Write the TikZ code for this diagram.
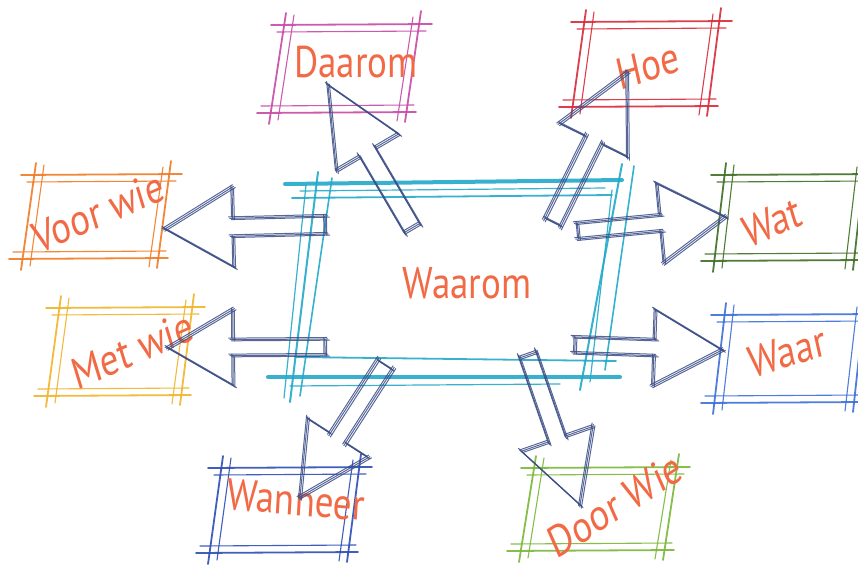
\documentclass[tikz,border=0pt]{standalone}
\usepackage{fontspec}
\setmainfont{PT Sans}
\usetikzlibrary{calc}
\definecolor{txt}{HTML}{F26A45}
\definecolor{pinkb}{HTML}{C84AA5}
\definecolor{redb}{HTML}{D92A3A}
\definecolor{orangeb}{HTML}{F07A22}
\definecolor{yellowb}{HTML}{F0B428}
\definecolor{dgreenb}{HTML}{3F6E22}
\definecolor{blueb}{HTML}{3B6FD8}
\definecolor{dblueb}{HTML}{2C4DB5}
\definecolor{lgreenb}{HTML}{7AB838}
\definecolor{cyanb}{HTML}{22A9C9}
\definecolor{navyb}{HTML}{3A4D86}
\tikzset{
  lbl/.style={text=txt, inner sep=0pt, font=\fontsize{37}{40}\selectfont, yscale=1.2},
  arrowline/.style={draw=navyb, line width=1pt, opacity=.85, line cap=round},
  boxline/.style={line width=1.8pt, opacity=.9, line cap=round},
}
% sketched parallelogram box: #1 colour, #2 left, #3 top, #4 right, #5 bottom, #6 slant
\newcommand{\skbox}[6]{%
  \begin{scope}[draw=#1, boxline]
    \draw (#2-14,#3) -- (#4+10,#3-1);
    \draw[line width=1.1pt] (#2-8,#3+7) -- (#4+4,#3+6);
    \draw (#2-#6-14,#5+1) -- (#4-#6+8,#5);
    \draw[line width=1.1pt] (#2-#6-10,#5-6) -- (#4-#6+6,#5-7);
    \draw (#2+1,#3-12) -- (#2-#6-2,#5+12);
    \draw[line width=1.1pt] (#2+9,#3-10) -- (#2-#6+7,#5+8);
    \draw (#4-1,#3-14) -- (#4-#6-3,#5+10);
    \draw[line width=1.1pt] (#4-9,#3-8) -- (#4-#6-11,#5+9);
  \end{scope}}
% sketched block arrow: #1 prefix, #2 start, #3 tip, #4 shaft half width, #5 head half width, #6 head length
\newcommand{\blockarrow}[6]{%
  \coordinate (#1c) at ($(#3)!#6pt!(#2)$);
  \coordinate (#1s1) at ($(#2)!#4pt!90:(#3)$);
  \coordinate (#1s2) at ($(#2)!#4pt!-90:(#3)$);
  \coordinate (#1b1) at ($(#1c)!#4pt!90:(#3)$);
  \coordinate (#1b2) at ($(#1c)!#4pt!-90:(#3)$);
  \coordinate (#1h1) at ($(#1c)!#5pt!90:(#3)$);
  \coordinate (#1h2) at ($(#1c)!#5pt!-90:(#3)$);
  \foreach \dx/\dy in {0/0,1.6/-1.2,-1.2/1.5}{
    \begin{scope}[transform canvas={xshift=\dx pt, yshift=\dy pt}]
      \draw[arrowline, shorten <=-3pt, shorten >=-3pt] (#1s1) -- (#1b1);
      \draw[arrowline, shorten <=-3pt, shorten >=-3pt] (#1s2) -- (#1b2);
      \draw[arrowline] (#1b1) -- (#1h1);
      \draw[arrowline] (#1b2) -- (#1h2);
      \draw[arrowline, shorten <=-2pt, shorten >=-2pt] (#1h1) -- (#3);
      \draw[arrowline, shorten <=-2pt, shorten >=-2pt] (#1h2) -- (#3);
      \draw[arrowline] (#1s1) -- (#1s2);
    \end{scope}}}
\begin{document}
\begin{tikzpicture}[x=1pt,y=-1pt]
\useasboundingbox (0,0) rectangle (858,568);
\fill[white] (0,0) rectangle (858,568);

% satellite boxes
\skbox{pinkb}{285}{25}{422}{112}{14}
\skbox{redb}{585}{22}{722}{106}{12}
\skbox{orangeb}{35}{175}{172}{258}{12}
\skbox{yellowb}{60}{308}{195}{395}{12}
\skbox{dgreenb}{725}{175}{866}{260}{10}
\skbox{blueb}{725}{315}{866}{402}{10}
\skbox{dblueb}{222}{468}{362}{552}{12}
\skbox{lgreenb}{535}{468}{680}{550}{14}

% central box
\begin{scope}[draw=cyanb, line cap=round, opacity=.9]
  \draw[line width=4pt] (285,184) -- (622,180);
  \draw[line width=1.8pt] (292,198) -- (612,195);
  \draw[line width=1.2pt] (300,191) -- (605,188);
  \draw[line width=2pt] (318,172) -- (290,402);
  \draw[line width=1.6pt] (332,178) -- (300,396);
  \draw[line width=1.2pt] (306,185) -- (284,398);
  \draw[line width=2pt] (622,164) -- (580,390);
  \draw[line width=1.6pt] (634,166) -- (605,370);
  \draw[line width=1.2pt] (612,190) -- (590,382);
  \draw[line width=1.8pt] (295,357) -- (616,361);
  \draw[line width=4pt] (268,377) -- (620,377);
  \draw[line width=1.2pt] (290,386) -- (560,384);
\end{scope}

% labels
\node[lbl] (waarom) at (467,283) {Waarom};
\node[lbl] (daarom) at (356,62) {Daarom};
\node[lbl, rotate=15] (hoe) at (648,66) {Hoe};
\node[lbl, rotate=20] (voorwie) at (98,212) {Voor wie};
\node[lbl, rotate=20] (metwie) at (132,350) {Met wie};
\node[lbl, rotate=20] (wat) at (772,222) {Wat};
\node[lbl, rotate=15] (waar) at (787,352) {Waar};
\node[lbl, rotate=-4] (wanneer) at (296,500) {Wanneer};
\node[lbl, rotate=28] (doorwie) at (615,505) {Door Wie};

% arrow end points
\coordinate (aV) at (325,225);  \coordinate (tV) at (165,229);
\coordinate (aM) at (325,347);  \coordinate (tM) at (168,348);
\coordinate (aW) at (578,231);  \coordinate (tW) at (725,217);
\coordinate (aR) at (575,345);  \coordinate (tR) at (722,350);
\coordinate (aD) at (412,228);  \coordinate (tD) at (328,85);
\coordinate (aH) at (553,222);  \coordinate (tH) at (627,73);
\coordinate (aN) at (385,365);  \coordinate (tN) at (300,497);
\coordinate (aO) at (528,355);  \coordinate (tO) at (580,505);

\blockarrow{v}{aV}{tV}{9}{40}{68}
\blockarrow{m}{aM}{tM}{8}{38}{65}
\blockarrow{w}{aW}{tW}{8}{40}{65}
\blockarrow{r}{aR}{tR}{8}{38}{68}
\blockarrow{d}{aD}{tD}{9}{36}{78}
\blockarrow{h}{aH}{tH}{9}{38}{75}
\blockarrow{n}{aN}{tN}{9}{36}{70}
\blockarrow{o}{aO}{tO}{9}{38}{70}
\end{tikzpicture}
\end{document}
